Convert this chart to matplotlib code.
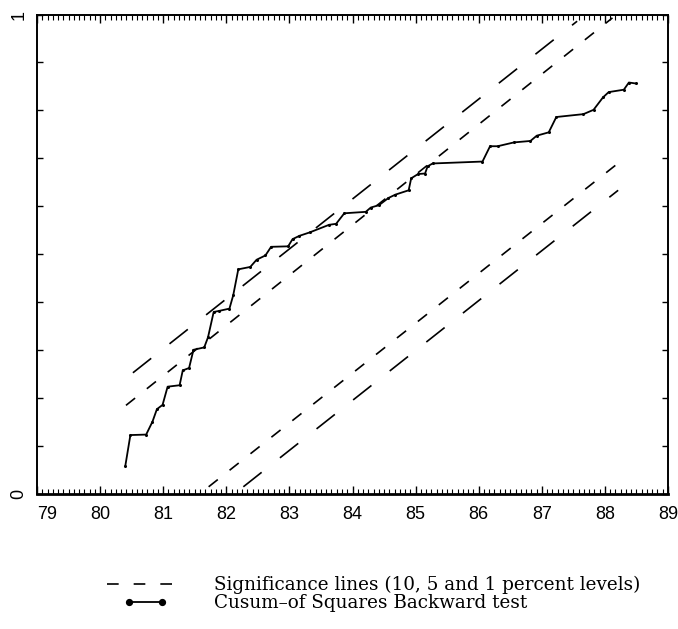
import numpy as np
import matplotlib
matplotlib.use("Agg")
import matplotlib.pyplot as plt
from matplotlib.ticker import MultipleLocator
from matplotlib.legend_handler import HandlerLine2D

# Cusum-of-squares backward test
cusum_x = [80.40, 80.48, 80.73, 80.83, 80.90, 80.99, 81.07, 81.26, 81.31, 81.41,
           81.48, 81.65, 81.71, 81.80, 81.88, 82.05, 82.11, 82.19, 82.38, 82.48,
           82.62, 82.71, 82.98, 83.05, 83.16, 83.32, 83.63, 83.74, 83.87, 84.21,
           84.29, 84.42, 84.57, 84.68, 84.89, 84.93, 85.04, 85.15, 85.19, 85.27,
           86.06, 86.18, 86.30, 86.56, 86.82, 86.92, 87.11, 87.23, 87.66, 87.82,
           87.97, 88.06, 88.30, 88.38, 88.49]
cusum_y = [0.058, 0.122, 0.123, 0.150, 0.176, 0.185, 0.223, 0.226, 0.257, 0.262,
           0.300, 0.305, 0.326, 0.379, 0.381, 0.386, 0.414, 0.468, 0.473, 0.488,
           0.497, 0.515, 0.516, 0.531, 0.538, 0.545, 0.561, 0.563, 0.585, 0.588,
           0.597, 0.602, 0.617, 0.624, 0.633, 0.658, 0.667, 0.668, 0.683, 0.689,
           0.693, 0.725, 0.725, 0.733, 0.736, 0.747, 0.754, 0.786, 0.792, 0.801,
           0.827, 0.838, 0.843, 0.858, 0.856]

# significance lines: end points (x, y)
upper_outer_x = [80.52, 87.56]
upper_outer_y = [0.252, 0.986]
upper_inner_x = [80.41, 88.12]
upper_inner_y = [0.184, 0.993]
lower_inner_x = [81.72, 88.31]
lower_inner_y = [0.014, 0.700]
lower_outer_x = [82.27, 88.21]
lower_outer_y = [0.014, 0.633]

xticks = [79, 80, 81, 82, 83, 84, 85, 86, 87, 88, 89]
xtick_labels = ["79", "80", "81", "82", "83", "84", "85", "86", "87", "88", "89"]
yticks = [0.0, 0.1, 0.2, 0.3, 0.4, 0.5, 0.6, 0.7, 0.8, 0.9, 1.0]
ytick_labels = ["0", "", "", "", "", "", "", "", "", "", "1"]

legend_labels = ["Significance lines (10, 5 and 1 percent levels)",
                 "Cusum\u2013of Squares Backward test"]

long_dash = (0, (14, 14))
short_dash = (0, (7, 9))

fig = plt.figure(figsize=(6.78, 6.29), dpi=100)
ax = fig.add_axes([37 / 678, 1 - 493.5 / 629, 631 / 678, 479 / 629])

ax.plot(upper_outer_x, upper_outer_y, color="black", lw=1.2, linestyle=long_dash)
sig, = ax.plot(upper_inner_x, upper_inner_y, color="black", lw=1.2, linestyle=short_dash)
ax.plot(lower_inner_x, lower_inner_y, color="black", lw=1.2, linestyle=short_dash)
ax.plot(lower_outer_x, lower_outer_y, color="black", lw=1.2, linestyle=long_dash)
cus, = ax.plot(cusum_x, cusum_y, color="black", lw=1.3, marker="o", markersize=1.2)

ax.set_xlim(79, 89)
ax.set_ylim(0, 1)
ax.set_xticks(xticks)
ax.set_xticklabels(xtick_labels, fontsize=13, family=["Liberation Sans", "DejaVu Sans"])
ax.xaxis.set_minor_locator(MultipleLocator(1 / 12))
ax.set_yticks(yticks)
ax.set_yticklabels(ytick_labels, fontsize=13, rotation=90, va="center",
                   family=["Liberation Sans", "DejaVu Sans"])
ax.get_xticklabels()[0].set_ha("left")

ax.tick_params(axis="x", which="major", direction="in", length=6, width=1,
               top=True, pad=9)
ax.tick_params(axis="x", which="minor", direction="in", length=3.5, width=0.8,
               top=True)
ax.tick_params(axis="y", which="major", direction="in", length=4, width=1,
               right=True, pad=7)
for s in ax.spines.values():
    s.set_linewidth(1.4)
ax.spines["bottom"].set_linewidth(2)

leg = ax.legend([sig, cus], legend_labels, loc="upper left",
                bbox_to_anchor=(98 / 678, 1 - 567 / 629),
                bbox_transform=fig.transFigure, frameon=False,
                prop={"family": ["DejaVu Serif"], "size": 13.2},
                handlelength=4.2, handletextpad=1.65, labelspacing=0.0,
                markerscale=3.5, borderpad=0,
                handler_map={cus: HandlerLine2D(numpoints=2, marker_pad=1.2)})

fig.savefig("out.png", dpi=100)
